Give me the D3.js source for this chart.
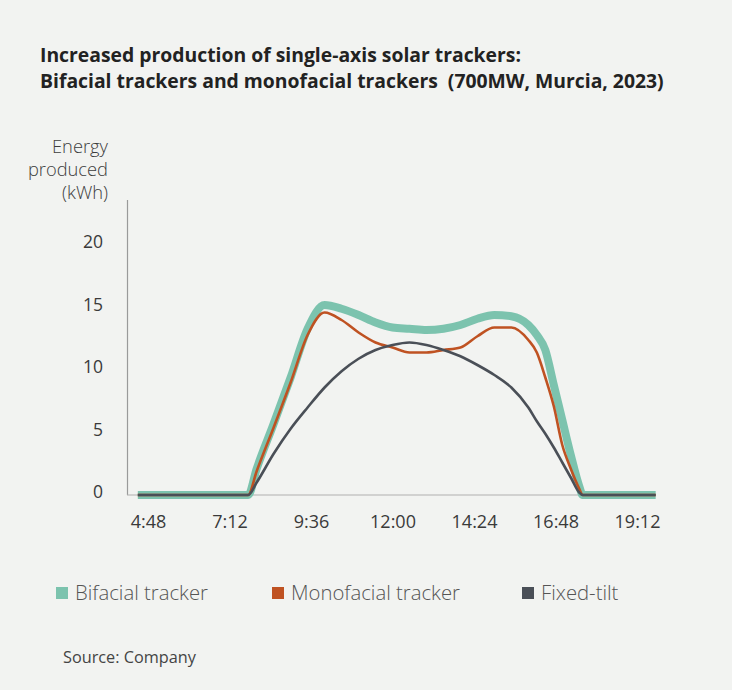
<!DOCTYPE html>
<html>
<head>
<meta charset="utf-8">
<script src="https://cdn.jsdelivr.net/npm/d3@7"></script>
<style>
  html, body { margin: 0; padding: 0; background: #f2f3f1; }
  svg { display: block; }
  text { font-family: "Open Sans", Lato, sans-serif; }
</style>
</head>
<body>
<svg id="chart" width="732" height="690"></svg>
<script>
// Time of day in decimal hours
const hours = [4.5, 5, 6, 7, 7.5, 7.75, 8, 8.5, 9, 9.5, 10, 10.5, 11, 11.5, 12, 12.5,
  13, 13.5, 14, 14.5, 15, 15.5, 16, 16.25, 16.5, 16.75, 17, 17.25, 17.5, 17.6, 18, 19, 19.75];

// Energy produced (kWh)
const bifacial = [0, 0, 0, 0, 0, 0, 2.1, 5.7, 9.4, 13.3, 15.2, 14.9, 14.4, 13.8, 13.4, 13.3,
  13.2, 13.3, 13.6, 14.1, 14.4, 14.3, 13.6, 12.8, 11.6, 8.8, 6.0, 3.2, 0.7, 0, 0, 0, 0];
const monofacial = [0, 0, 0, 0, 0, 0, 1.9, 5.4, 9.0, 12.8, 14.6, 14.0, 13.0, 12.2, 11.8, 11.4,
  11.4, 11.6, 11.8, 12.7, 13.4, 13.4, 12.4, 11.4, 9.4, 7.1, 4.0, 2.1, 0.5, 0, 0, 0, 0];
const fixedTilt = [0, 0, 0, 0, 0, 0, 1.0, 3.3, 5.3, 7.0, 8.6, 9.9, 10.9, 11.6, 12.0, 12.2,
  12.0, 11.6, 11.1, 10.4, 9.6, 8.6, 7.0, 5.9, 4.9, 3.8, 2.6, 1.4, 0.2, 0, 0, 0, 0];

const xTicks = [4.8, 7.2, 9.6, 12, 14.4, 16.8, 19.2];
const yTicks = [0, 5, 10, 15, 20];

const seriesNames = ["Bifacial tracker", "Monofacial tracker", "Fixed-tilt"];
const seriesColors = ["#7cc3ae", "#bf5222", "#4a4f57"];
const seriesWidths = [8, 2.6, 2.6];

const svg = d3.select("#chart");

const x = d3.scaleLinear().domain([4.8, 19.2]).range([148, 637]);
const y = d3.scaleLinear().domain([0, 20]).range([495, 245]);

// Scale a text element's font size so that it spans the given width
function fitWidth(sel, width) {
  const w = sel.node().getComputedTextLength();
  const fs = parseFloat(sel.attr("font-size"));
  const size = fs * width / w;
  sel.attr("font-size", size);
  return size;
}

// Title
const t1 = svg.append("text")
  .attr("x", 40).attr("y", 62)
  .attr("font-size", 17).attr("font-weight", 700).attr("fill", "#222")
  .text("Increased production of single-axis solar trackers:");
const t2 = svg.append("text")
  .attr("x", 40).attr("y", 88)
  .attr("font-size", 17).attr("font-weight", 700).attr("fill", "#222")
  .style("white-space", "pre")
  .text("Bifacial trackers and monofacial trackers  (700MW, Murcia, 2023)");
const titleSize = fitWidth(t2, 624);
t1.attr("font-size", titleSize);

// Y-axis title
const yTitle = ["Energy", "produced", "(kWh)"];
const yt = svg.append("g").selectAll("text").data(yTitle).join("text")
  .attr("x", 108).attr("y", (d, i) => 153 + i * 23)
  .attr("text-anchor", "end")
  .attr("font-size", 16).attr("font-weight", 300).attr("fill", "#3d3d3d")
  .text(d => d);
const ytSize = fitWidth(d3.select(yt.nodes()[0]), 56);
yt.attr("font-size", ytSize);

// Y axis
const yAxis = svg.append("g")
  .attr("transform", "translate(103,0)")
  .call(d3.axisLeft(y).tickValues(yTicks).tickSize(0).tickPadding(0));
yAxis.select(".domain").remove();
yAxis.selectAll("text")
  .attr("font-size", 17.5).attr("fill", "#3a3a3a")
  .attr("font-family", "'Open Sans', sans-serif")
  .attr("dy", "0.34em")
  .attr("transform", "translate(0,-3)");

// Axis lines
svg.append("line")
  .attr("x1", 127.5).attr("x2", 127.5)
  .attr("y1", y(23.6)).attr("y2", y(0))
  .attr("stroke", "#9a9a9a").attr("stroke-width", 1.2);
svg.append("line")
  .attr("x1", 127).attr("x2", x(19.75))
  .attr("y1", y(0)).attr("y2", y(0))
  .attr("stroke", "#b0b0b0").attr("stroke-width", 1.2);

// X axis labels
const fmt = h => {
  const hh = Math.floor(h);
  const mm = Math.round((h - hh) * 60);
  return hh + ":" + String(mm).padStart(2, "0");
};
const xAxis = svg.append("g")
  .attr("transform", "translate(0,522)")
  .call(d3.axisBottom(x).tickValues(xTicks).tickFormat(fmt).tickSize(0).tickPadding(0));
xAxis.select(".domain").remove();
xAxis.selectAll("text")
  .attr("font-size", 18).attr("fill", "#3a3a3a")
  .attr("font-family", "'Open Sans', sans-serif")
  .attr("dy", "0.36em");

// Lines
const line = d3.line()
  .x(d => x(d[0]))
  .y(d => y(d[1]))
  .curve(d3.curveMonotoneX);

const seriesData = [bifacial, monofacial, fixedTilt];
seriesData.forEach((vals, i) => {
  svg.append("path")
    .datum(hours.map((h, j) => [h, vals[j]]))
    .attr("fill", "none")
    .attr("stroke", seriesColors[i])
    .attr("stroke-width", seriesWidths[i])
    .attr("stroke-linejoin", "round")
    .attr("stroke-linecap", "butt")
    .attr("d", line);
});

// Legend
const legendX = [56, 272, 522];
const legend = svg.append("g").selectAll("g").data(seriesNames).join("g")
  .attr("transform", (d, i) => `translate(${legendX[i]},593)`);
legend.append("rect")
  .attr("x", 0).attr("y", -6).attr("width", 12).attr("height", 12)
  .attr("fill", (d, i) => seriesColors[i]);
const legendText = legend.append("text")
  .attr("x", 19).attr("y", 0).attr("dy", "0.35em")
  .attr("font-size", 17).attr("font-weight", 300).attr("fill", "#555")
  .text(d => d);
const legendSize = fitWidth(d3.select(legendText.nodes()[1]), 169);
legendText.attr("font-size", legendSize);

// Source
const src = svg.append("text")
  .attr("x", 63).attr("y", 657).attr("dy", "0.35em")
  .attr("font-size", 14).attr("fill", "#444")
  .text("Source: Company");
fitWidth(src, 133);
</script>
</body>
</html>
